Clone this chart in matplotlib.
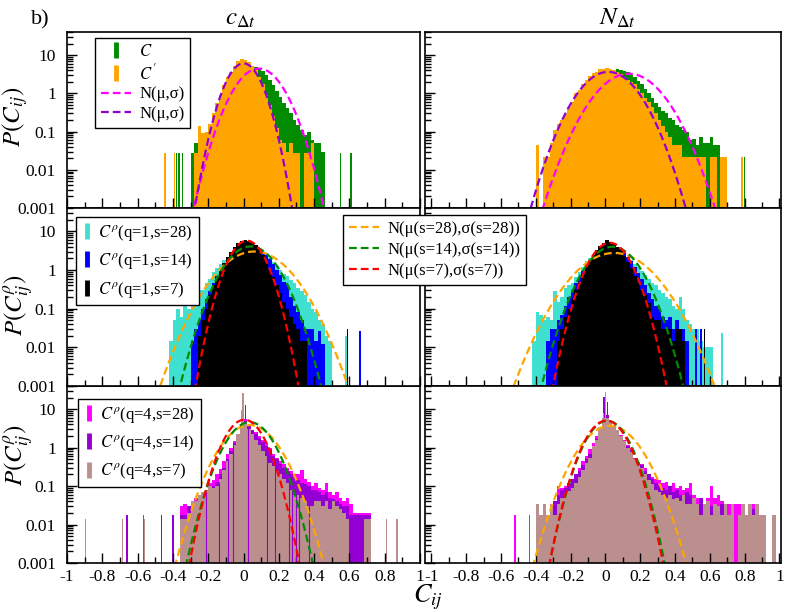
import numpy as np
import matplotlib
matplotlib.use('Agg')
import matplotlib.pyplot as plt
from matplotlib.lines import Line2D
from matplotlib.ticker import FixedLocator, LogLocator, NullFormatter, FuncFormatter

plt.rcParams['font.family'] = 'serif'
plt.rcParams['font.serif'] = ['Liberation Serif', 'DejaVu Serif']
plt.rcParams['mathtext.fontset'] = 'stix'
plt.rcParams['axes.unicode_minus'] = False

# histogram bin width, every series below starts at *_start and steps by BIN
BIN = 0.02
FLOOR = 1e-5

# ---- top row: C and C' ----
tl_c_start = -0.30
tl_c = [0.027, 0.05, 0.03, 0.05, 0.06, 0.08, 0.15, 0.25, 0.4, 0.7, 1.0, 1.5, 2.2, 3.0, 3.6,
        4.2, 4.6, 5.0, 5.0, 4.5, 3.8, 3.0, 2.2, 1.6, 1.15, 0.8, 0.55, 0.4, 0.3, 0.2, 0.15,
        0.11, 0.08, 0.1, 0.06, 0.05, 0.05, 0.03]
tl_c_out_x = [-0.38, -0.365, -0.345, 0.55, 0.61]
tl_c_out_y = [0.027, 0.027, 0.027, 0.027, 0.027]
tl_cp_start = -0.28
tl_cp = [0.027, 0.14, 0.09, 0.1, 0.16, 0.3, 0.55, 0.9, 1.6, 2.6, 3.7, 5.3, 7.0, 8.0, 7.3,
         6.5, 5.3, 4.0, 2.6, 1.8, 0.9, 0.5, 0.25, 0.12, 0.06, 0.05, 0.03, 0.05, 0.027, 0.027,
         0, 0.027, 0.027, 0.05]
tl_cp_out_x = [-0.445, -0.39]
tl_cp_out_y = [0.027, 0.027]

tr_c_start = -0.36
tr_c = [0.022, 0.022, 0.045, 0.06, 0.09, 0.12, 0.18, 0.25, 0.35, 0.5, 0.7, 1.0, 1.3, 1.7, 2.2,
        2.7, 3.1, 3.5, 3.8, 4.0, 4.1, 4.2, 4.0, 3.9, 3.5, 3.0, 2.6, 2.1, 1.8, 1.3, 1.0, 0.75,
        0.55, 0.45, 0.35, 0.3, 0.22, 0.2, 0.15, 0.13, 0.11, 0.1, 0.06, 0.065, 0.045, 0.07,
        0.05, 0.05, 0.07, 0.045, 0.045, 0.022, 0.022]
tr_c_out_x = [0.80]
tr_c_out_y = [0.022]
tr_cp_start = -0.40
tr_cp = [0.045, 0, 0.022, 0.022, 0.05, 0.11, 0.16, 0.2, 0.28, 0.45, 0.6, 1.0, 1.2, 1.7, 2.2,
         2.9, 3.3, 3.7, 4.2, 4.4, 4.6, 4.4, 4.1, 3.6, 3.2, 2.7, 2.2, 2.0, 1.7, 1.3, 1.0, 0.75,
         0.6, 0.45, 0.3, 0.2, 0.14, 0.1, 0.07, 0.045, 0.045, 0.045, 0.022, 0.022, 0.022,
         0.022, 0.022, 0.022, 0.022, 0, 0.022, 0.022, 0, 0.022, 0.022]
tr_cp_out_x = [0.785]
tr_cp_out_y = [0.022]

# fitted normals (mu, sigma) for C (magenta) and C' (purple)
tl_fit_c = (0.087, 0.09)
tl_fit_cp = (0.0, 0.066)
tr_fit_c = (0.135, 0.123)
tr_fit_cp = (0.016, 0.11)

# ---- middle row: q=1 ----
ml_s28_start = -0.42
ml_s28 = [0.015, 0.05, 0.1, 0.06, 0.12, 0.1, 0.15, 0.2, 0.3, 0.3, 0.45, 0.6, 0.9, 1.1, 1.4,
          1.8, 2.1, 2.5, 2.9, 3.2, 3.5, 3.6, 3.6, 3.5, 3.4, 3.1, 3.0, 2.6, 2.0, 1.6, 1.3, 1.0,
          0.8, 0.7, 0.55, 0.45, 0.35, 0.28, 0.22, 0.15, 0.1, 0.08, 0.05, 0.04, 0.02, 0.015]
ml_s28_out_x = [0.58]
ml_s28_out_y = [0.02]
ml_s14_start = -0.30
ml_s14 = [0.015, 0.03, 0.05, 0.1, 0.18, 0.28, 0.45, 0.7, 1.0, 1.4, 1.9, 2.5, 3.2, 3.9, 4.5,
          4.8, 5.0, 4.8, 4.3, 3.6, 3.0, 2.4, 1.9, 1.4, 1.0, 0.75, 0.5, 0.4, 0.2, 0.12, 0.08,
          0.05, 0.03, 0.03, 0.03, 0.015, 0.027, 0.012]
ml_s14_out_x = [0.66]
ml_s14_out_y = [0.027]
ml_s7_start = -0.26
ml_s7 = [0.02, 0.05, 0.1, 0.22, 0.4, 0.65, 1.0, 1.5, 2.2, 3.0, 4.0, 5.0, 5.6, 6.0, 5.6, 5.0,
         4.3, 3.2, 2.4, 1.6, 1.0, 0.65, 0.4, 0.25, 0.15, 0.1, 0.06, 0.04, 0.03, 0.015, 0.015]
ml_s7_out_x = [0.59]
ml_s7_out_y = [0.03]

mr_s28_start = -0.42
mr_s28 = [0.015, 0.08, 0.07, 0.05, 0.06, 0.05, 0.28, 0.15, 0.2, 0.35, 0.4, 0.45, 0.65, 0.9,
          1.2, 1.7, 2.1, 2.5, 2.9, 3.2, 3.4, 3.5, 3.4, 3.3, 3.1, 2.9, 2.5, 2.1, 1.8, 1.4, 1.2,
          0.95, 0.75, 0.6, 0.45, 0.4, 0.3, 0.25, 0.2, 0.18, 0.12, 0.1, 0.2, 0.1, 0.05, 0.04,
          0.03, 0.03, 0.015, 0.01, 0.01, 0.01]
mr_s28_out_x = [0.67]
mr_s28_out_y = [0.024]
mr_s14_start = -0.34
mr_s14 = [0.015, 0.03, 0.03, 0.05, 0.07, 0.12, 0.2, 0.3, 0.45, 0.65, 0.95, 1.3, 1.8, 2.4, 3.0,
          3.6, 4.3, 4.8, 4.8, 4.4, 4.0, 3.4, 2.8, 2.2, 1.7, 1.2, 0.85, 0.6, 0.4, 0.25, 0.18,
          0.12, 0.1, 0.06, 0.05, 0.06, 0.03, 0.05, 0.03, 0.03, 0.015]
mr_s14_out_x = [0.52, 0.55]
mr_s14_out_y = [0.03, 0.03]
mr_s7_start = -0.28
mr_s7 = [0.015, 0.03, 0.06, 0.1, 0.18, 0.3, 0.5, 0.8, 1.2, 1.8, 2.5, 3.3, 4.2, 5.0, 5.8, 5.4,
         4.8, 4.0, 3.2, 2.3, 1.6, 1.1, 0.7, 0.45, 0.3, 0.22, 0.14, 0.06, 0.05, 0.05, 0.03,
         0.03, 0.03, 0.015, 0.03, 0.03, 0.015]
mr_s7_out_x = [0.57]
mr_s7_out_y = [0.03]

# fitted normals (mu, sigma) for s=28, 14, 7
ml_fits = [(0.06, 0.133), (0.04, 0.098), (0.02, 0.07)]
mr_fits = [(0.05, 0.145), (0.04, 0.10), (0.025, 0.079)]

# ---- bottom row: q=4 ----
bl_s28_start = -0.36
bl_s28 = [0.03, 0.035, 0.03, 0.04, 0.05, 0.06, 0.06, 0.08, 0.12, 0.14, 0.2, 0.28, 0.45, 0.7,
          1.0, 1.5, 2.2, 4.0, 5.5, 3.2, 2.8, 2.5, 2.0, 1.6, 1.3, 1.0, 0.7, 0.55, 0.45, 0.38,
          0.3, 0.25, 0.2, 0.2, 0.26, 0.15, 0.13, 0.1, 0.12, 0.09, 0.08, 0.12, 0.07, 0.06, 0.07,
          0.05, 0.04, 0.05, 0.035, 0.02, 0.02, 0.02, 0.02, 0.02]
bl_s28_out_x = [-0.565]
bl_s28_out_y = [0.018]
bl_s14_start = -0.36
bl_s14 = [0.018, 0.018, 0.03, 0.035, 0.04, 0.05, 0.06, 0.07, 0.09, 0.1, 0.13, 0.2, 0.3, 0.5,
          0.8, 1.3, 2.0, 3.8, 5.0, 3.6, 2.8, 2.3, 1.8, 1.4, 1.1, 0.85, 0.6, 0.5, 0.38, 0.3,
          0.25, 0.2, 0.16, 0.14, 0.12, 0.11, 0.1, 0.08, 0.08, 0.07, 0.06, 0.07, 0.05, 0.045,
          0.04, 0.035, 0.03, 0.03, 0.018, 0.018, 0.018, 0.018, 0.018, 0.018]
bl_s14_out_x = [-0.66, -0.465, -0.40, 0.012]
bl_s14_out_y = [0.018, 0.018, 0.018, 12.7]
bl_s7_start = -0.36
bl_s7 = [0.014, 0.014, 0.02, 0.04, 0.04, 0.06, 0.07, 0.08, 0.1, 0.09, 0.1, 0.15, 0.26, 0.45,
         0.7, 1.2, 2.3, 4.0, 4.5, 3.0, 2.2, 1.6, 1.2, 0.8, 0.6, 0.4, 0.33, 0.25, 0.2, 0.15,
         0.12, 0.08, 0.06, 0.06, 0.05, 0.04, 0.03, 0.03, 0.04, 0.04, 0.03, 0.04, 0.025, 0.04,
         0.03, 0.025, 0.02, 0.014, 0, 0, 0, 0, 0.014, 0.014]
bl_s7_out_x = [-0.895, -0.685, -0.56, 0.71, 0.81, 0.87, -0.012, -0.003]
bl_s7_out_y = [0.014, 0.014, 0.014, 0.014, 0.014, 0.014, 9.4, 26.0]
# places where s=7 is empty and the s=14 bars show through
bl_s7_gaps = [-0.215, -0.14, -0.085, -0.06, 0.025, 0.135, 0.18, 0.255, 0.275, 0.295, 0.315, 0.37]

br_s28_start = -0.30
br_s28 = [0.035, 0.1, 0.09, 0.1, 0.1, 0.14, 0.2, 0.3, 0.45, 0.6, 0.9, 1.3, 2.0, 3.2, 5.5, 6.5,
          4.5, 3.3, 2.7, 2.1, 1.6, 1.2, 0.9, 0.55, 0.42, 0.38, 0.3, 0.2, 0.17, 0.15, 0.14,
          0.12, 0.13, 0.1, 0.12, 0.09, 0.1, 0.08, 0.09, 0.12, 0.06, 0.05, 0.04, 0.035, 0.05,
          0.1, 0.05, 0.06, 0.04, 0.035, 0.035, 0.018, 0.035, 0.035, 0, 0.018, 0.035, 0.035,
          0.035]
br_s28_out_x = [-0.52, -0.435]
br_s28_out_y = [0.018, 0.018]
br_s14_start = -0.36
br_s14 = [0.018, 0.018, 0.035, 0.04, 0.06, 0.08, 0.09, 0.12, 0.15, 0.2, 0.25, 0.35, 0.5, 0.7,
          1.1, 1.7, 3.0, 6.0, 7.0, 4.6, 3.4, 2.6, 2.0, 1.5, 1.1, 0.85, 0.5, 0.38, 0.35, 0.25,
          0.2, 0.15, 0.12, 0.1, 0.09, 0.08, 0.1, 0.07, 0.08, 0.06, 0.05, 0.07, 0.06, 0.04,
          0.035, 0.05, 0.035, 0.025, 0.03, 0.018, 0.025, 0.035, 0.018, 0.018, 0, 0, 0, 0, 0,
          0, 0.025, 0.025]
br_s14_out_x = [-0.008, 0.012]
br_s14_out_y = [21.0, 15.0]
br_s7_start = -0.40
br_s7 = [0.035, 0.018, 0.035, 0.018, 0.035, 0.018, 0.035, 0.05, 0.06, 0.075, 0.09, 0.12, 0.17,
         0.26, 0.4, 0.55, 1.1, 1.6, 3.5, 6.0, 6.0, 5.0, 3.8, 2.8, 2.0, 1.5, 1.0, 0.75, 0.5,
         0.38, 0.3, 0.2, 0.14, 0.11, 0.08, 0.07, 0.06, 0.05, 0.06, 0.045, 0.05, 0.04, 0.06,
         0.035, 0.035, 0.05, 0.035, 0.018, 0.035, 0.04, 0.018, 0.035, 0.03, 0.018, 0.035,
         0.018, 0.035, 0, 0.018, 0.035, 0.018, 0.035, 0.018, 0.035, 0.018, 0.018, 0, 0, 0.018]
br_s7_out_x = [-0.012, 0.002]
br_s7_out_y = [8.0, 28.0]

bl_fits = [(0.035, 0.103), (0.035, 0.087), (0.005, 0.075)]
br_fits = [(0.026, 0.108), (0.01, 0.08), (0.005, 0.079)]

x_major = [-1, -0.8, -0.6, -0.4, -0.2, 0, 0.2, 0.4, 0.6, 0.8, 1]
x_minor = [-0.9, -0.7, -0.5, -0.3, -0.1, 0.1, 0.3, 0.5, 0.7, 0.9]

GREEN = '#008b00'
ORANGE = '#ffa500'
MAGENTA = '#ff00ff'
PURPLE = '#9400d3'
TURQ = '#40e0d0'
BLUE = '#0000ff'
RED = '#ff0000'
BROWN = '#bc8f8f'
DASH = (0, (3.5, 1.8))


def gauss(x, mu, sigma):
    return np.exp(-(x - mu) ** 2 / (2 * sigma ** 2)) / (sigma * np.sqrt(2 * np.pi))


def draw_hist(ax, start, heights, color, out_x=(), out_y=(), width=0.008):
    h = np.array(heights, dtype=float)
    edges = start + BIN * np.arange(len(h) + 1)
    ax.stairs(np.where(h > 0, h, FLOOR), edges, fill=True, baseline=FLOOR,
              facecolor=color, edgecolor='none', lw=0)
    if len(out_x):
        ax.bar(out_x, np.array(out_y) - FLOOR, width=width, bottom=FLOOR, color=color, lw=0)


def draw_fit(ax, fit, color):
    xs = np.linspace(-1, 1, 1201)
    ax.plot(xs, gauss(xs, fit[0], fit[1]), color=color, lw=1.6, linestyle=DASH)


def style(ax, xlim, bottom_row, left_col):
    ax.set_yscale('log')
    ax.set_ylim(0.001, 40)
    ax.set_xlim(*xlim)
    ax.xaxis.set_major_locator(FixedLocator(x_major))
    ax.xaxis.set_minor_locator(FixedLocator(x_minor))
    ax.xaxis.set_major_formatter(FuncFormatter(lambda v, p: '%g' % v))
    ax.yaxis.set_major_locator(FixedLocator([0.001, 0.01, 0.1, 1, 10]))
    ax.yaxis.set_minor_locator(LogLocator(base=10, subs=np.arange(2, 10)))
    ax.yaxis.set_minor_formatter(NullFormatter())
    ax.yaxis.set_major_formatter(FuncFormatter(lambda v, p: '%g' % v))
    ax.tick_params(which='both', direction='in', top=False, right=False, width=1)
    ax.tick_params(which='major', length=7)
    ax.tick_params(which='minor', length=4)
    ax.tick_params(axis='x', labelsize=12.5, pad=4, labelbottom=bottom_row)
    ax.tick_params(axis='y', labelsize=12.5, pad=8, labelleft=left_col)
    for s in ax.spines.values():
        s.set_linewidth(1.2)


def bar_handle(color):
    return Line2D([0], [0], marker='|', ms=12, mew=3.5, color=color, linestyle='none')


def dash_handle(color):
    return Line2D([0], [0], color=color, lw=1.6, linestyle=DASH)


def make_legend(ax, handles, labels, anchor, spacing, hlen=1.8, hpad=0.5):
    leg = ax.legend(handles, labels, loc='upper left', bbox_to_anchor=anchor,
                    borderaxespad=0, fancybox=False, edgecolor='black', framealpha=1,
                    fontsize=12, handlelength=hlen, handletextpad=hpad,
                    labelspacing=spacing, borderpad=0.35)
    leg.get_frame().set_linewidth(1.0)
    return leg


fig = plt.figure(figsize=(7.92, 6.12), dpi=100)
W, H = 792.0, 612.0
cols = [(67, 353, (-1, 1)), (425, 356, (-1.037, 1.009))]
rows = [(32, 176), (208, 178), (386, 177)]
axes = []
for r, (top, hgt) in enumerate(rows):
    line = []
    for c, (left, wid, xlim) in enumerate(cols):
        ax = fig.add_axes([left / W, 1 - (top + hgt) / H, wid / W, hgt / H])
        style(ax, xlim, r == 2, c == 0)
        line.append(ax)
    axes.append(line)

# top row
for ax, c_start, c_vals, c_ox, c_oy, p_start, p_vals, p_ox, p_oy, f_c, f_p in [
        (axes[0][0], tl_c_start, tl_c, tl_c_out_x, tl_c_out_y,
         tl_cp_start, tl_cp, tl_cp_out_x, tl_cp_out_y, tl_fit_c, tl_fit_cp),
        (axes[0][1], tr_c_start, tr_c, tr_c_out_x, tr_c_out_y,
         tr_cp_start, tr_cp, tr_cp_out_x, tr_cp_out_y, tr_fit_c, tr_fit_cp)]:
    draw_hist(ax, c_start, c_vals, GREEN, c_ox, c_oy)
    draw_hist(ax, p_start, p_vals, ORANGE, p_ox, p_oy)
    draw_fit(ax, f_c, MAGENTA)
    draw_fit(ax, f_p, PURPLE)

# middle row
mid_sets = [
    (axes[1][0], [(ml_s28_start, ml_s28, ml_s28_out_x, ml_s28_out_y),
                  (ml_s14_start, ml_s14, ml_s14_out_x, ml_s14_out_y),
                  (ml_s7_start, ml_s7, ml_s7_out_x, ml_s7_out_y)], ml_fits),
    (axes[1][1], [(mr_s28_start, mr_s28, mr_s28_out_x, mr_s28_out_y),
                  (mr_s14_start, mr_s14, mr_s14_out_x, mr_s14_out_y),
                  (mr_s7_start, mr_s7, mr_s7_out_x, mr_s7_out_y)], mr_fits)]
for ax, series, fits in mid_sets:
    for (st, vals, ox, oy), col in zip(series, [TURQ, BLUE, 'black']):
        draw_hist(ax, st, vals, col, ox, oy)
    for fit, col in zip(fits, [ORANGE, GREEN, RED]):
        draw_fit(ax, fit, col)

# bottom row
bot_sets = [
    (axes[2][0], [(bl_s28_start, bl_s28, bl_s28_out_x, bl_s28_out_y),
                  (bl_s14_start, bl_s14, bl_s14_out_x, bl_s14_out_y),
                  (bl_s7_start, bl_s7, bl_s7_out_x, bl_s7_out_y)], bl_fits),
    (axes[2][1], [(br_s28_start, br_s28, br_s28_out_x, br_s28_out_y),
                  (br_s14_start, br_s14, br_s14_out_x, br_s14_out_y),
                  (br_s7_start, br_s7, br_s7_out_x, br_s7_out_y)], br_fits)]
for ax, series, fits in bot_sets:
    for (st, vals, ox, oy), col in zip(series, [MAGENTA, PURPLE, BROWN]):
        draw_hist(ax, st, vals, col, ox, oy)
    if ax is axes[2][0]:
        gx = np.array(bl_s7_gaps)
        idx = ((gx - bl_s14_start) / BIN).astype(int)
        ax.vlines(gx, FLOOR, np.array(bl_s14)[idx], color=PURPLE, lw=0.8)
    for fit, col in zip(fits, [ORANGE, GREEN, RED]):
        draw_fit(ax, fit, col)

# legends
make_legend(axes[0][0],
            [bar_handle(GREEN), bar_handle(ORANGE), dash_handle(MAGENTA), dash_handle(PURPLE)],
            [r'$C$', r"$C'$", 'N(μ,σ)', 'N(μ,σ)'], (0.079, 0.966), 0.2)
make_legend(axes[1][0],
            [bar_handle(TURQ), bar_handle(BLUE), bar_handle('black')],
            [r'$C^{\rho}$(q=1,s=28)', r'$C^{\rho}$(q=1,s=14)', r'$C^{\rho}$(q=1,s=7)'],
            (0.025, 0.949), 0.5, hlen=0.6, hpad=0.4)
axes[1][0].add_artist(axes[1][0].get_legend())
make_legend(axes[1][0],
            [dash_handle(ORANGE), dash_handle(GREEN), dash_handle(RED)],
            ['N(μ(s=28),σ(s=28))', 'N(μ(s=14),σ(s=14))', 'N(μ(s=7),σ(s=7))'],
            (0.782, 0.961), 0.3)
axes[1][0].set_zorder(5)
make_legend(axes[2][0],
            [bar_handle(MAGENTA), bar_handle(PURPLE), bar_handle(BROWN)],
            [r'$C^{\rho}$(q=4,s=28)', r'$C^{\rho}$(q=4,s=14)', r'$C^{\rho}$(q=4,s=7)'],
            (0.031, 0.927), 0.5, hlen=0.6, hpad=0.4)

# labels
fig.text(40 / W, 1 - 20 / H, 'b)', fontsize=16, ha='center', va='center')
fig.text(240 / W, 1 - 19 / H, r'$c_{\Delta t}$', fontsize=18, ha='center', va='center')
fig.text(617 / W, 1 - 18 / H, r'$N_{\Delta t}$', fontsize=18, ha='center', va='center')
fig.text(15 / W, 1 - 117 / H, r'$P(C_{ij})$', fontsize=18, rotation=90, ha='center', va='center')
fig.text(19 / W, 1 - 305 / H, r'$P(C^{\rho}_{ij})$', fontsize=18, rotation=90,
         ha='center', va='center')
fig.text(19 / W, 1 - 455 / H, r'$P(C^{\rho}_{ij})$', fontsize=18, rotation=90,
         ha='center', va='center')
fig.text(428 / W, 1 - 597 / H, r'$C_{ij}$', fontsize=19, ha='center', va='center')

fig.savefig('out.png', dpi=100)
